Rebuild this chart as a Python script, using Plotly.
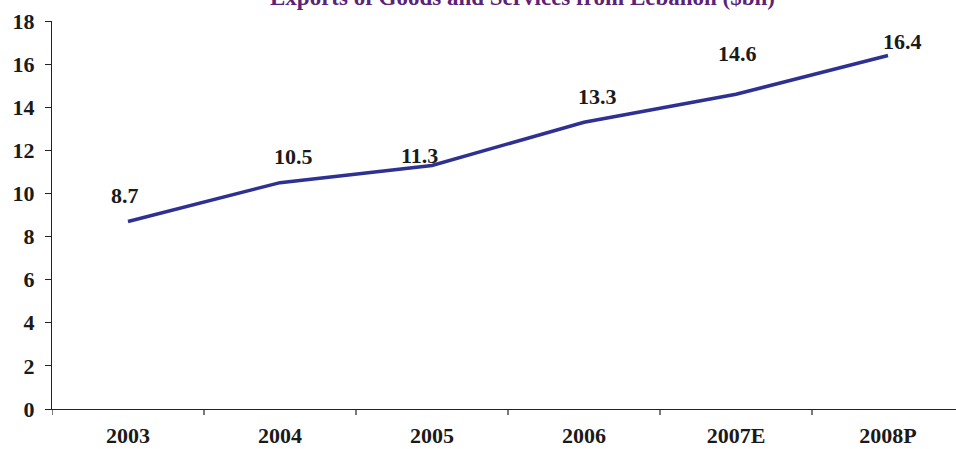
import plotly.graph_objects as go

# Exports of goods and services, billions of US dollars
years = ["2003", "2004", "2005", "2006", "2007E", "2008P"]
exports_bn = [8.7, 10.5, 11.3, 13.3, 14.6, 16.4]
y_ticks = [0, 2, 4, 6, 8, 10, 12, 14, 16, 18]

# pixel nudges for each value label (dx, dy above the point)
label_nudge = [(-3, 26), (13, 26), (-13, 10), (13, 26), (1, 41), (14, 14)]

W, H = 956, 449
L, R, T, B = 52, 0, 21, 40
FONT = "Liberation Serif"

fig = go.Figure()
fig.add_trace(go.Scatter(
    x=list(range(len(years))), y=exports_bn, mode="lines",
    line=dict(color="#2E3192", width=3.5),
    hoverinfo="skip", showlegend=False,
))

for i, (v, (dx, dy)) in enumerate(zip(exports_bn, label_nudge)):
    fig.add_annotation(
        x=i, y=v, xref="x", yref="y", text=f"<b>{v:.1f}</b>",
        showarrow=False, xshift=dx, yshift=dy,
        font=dict(family=FONT, size=22, color="#1a1a1a"),
    )

# title sits mostly above the top edge of the page
fig.add_annotation(
    x=(522 - L) / (W - L - R), y=1 + (T + 3) / (H - T - B),
    xref="paper", yref="paper", yanchor="middle",
    text="<b>Exports of Goods and Services from Lebanon ($bn)</b>",
    showarrow=False, font=dict(family=FONT, size=23, color="#5B2378"),
)

span = (W - L - R) / 152.0
fig.update_xaxes(
    tickmode="array", tickvals=list(range(len(years))), ticktext=[f"<b>{y}</b>" for y in years],
    range=[-0.5, -0.5 + span], showgrid=False, zeroline=False,
    showline=True, linecolor="#222", linewidth=1.2,
    ticks="", ticklabelstandoff=6, automargin=False,
    tickfont=dict(family=FONT, size=22, color="#1a1a1a"),
)
# boundary tick marks between categories
for k in range(len(years) + 1):
    fig.add_shape(type="line", xref="x", yref="paper",
                  x0=k - 0.5, x1=k - 0.5, y0=0, y1=-6 / (H - T - B),
                  line=dict(color="#222", width=1.2))

fig.update_yaxes(
    range=[0, 18], tickvals=y_ticks, ticktext=[f"<b>{t}</b>" for t in y_ticks],
    showgrid=False, zeroline=False, showline=True, linecolor="#222", linewidth=1.2,
    ticks="outside", ticklen=6, tickcolor="#222", tickwidth=1.2,
    ticklabelstandoff=6, automargin=False,
    tickfont=dict(family=FONT, size=22, color="#1a1a1a"),
)

fig.update_layout(
    width=W, height=H, margin=dict(l=L, r=R, t=T, b=B),
    paper_bgcolor="white", plot_bgcolor="white",
)
fig.write_html("out.html")
